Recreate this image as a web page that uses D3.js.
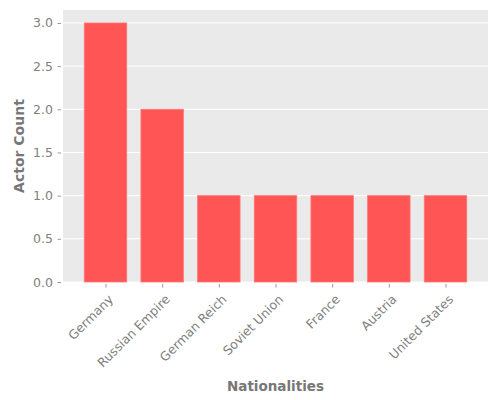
<!DOCTYPE html>
<html>
<head>
<meta charset="utf-8">
<script src="https://cdn.jsdelivr.net/npm/d3@7"></script>
<style>
  body { margin: 0; background: #fff; }
  text { font-family: "DejaVu Sans", sans-serif; }
</style>
</head>
<body>
<div id="main"></div>
<script>
var nationalities = ["Germany", "Russian Empire", "German Reich", "Soviet Union", "France", "Austria", "United States"];
var actorCounts = [3, 2, 1, 1, 1, 1, 1];
var yTicks = [0, 0.5, 1.0, 1.5, 2.0, 2.5, 3.0];

var margin = {top: 10, right: 12, bottom: 118, left: 63},
    width = 500 - margin.left - margin.right,
    height = 400 - margin.top - margin.bottom;

var svg = d3.select("#main")
  .append("svg")
    .attr("width", 500)
    .attr("height", 400)
  .append("g")
    .attr("transform", "translate(" + margin.left + "," + margin.top + ")");

// plot background
svg.append("rect")
  .attr("width", width)
  .attr("height", height)
  .attr("fill", "#eaeaea");

var x = d3.scaleLinear()
  .domain([-0.75, nationalities.length - 0.25])
  .range([0, width]);

var y = d3.scaleLinear()
  .domain([0, 3.15])
  .range([height, 0]);

// gridlines
svg.append("g")
  .selectAll("line")
  .data(yTicks)
  .enter()
  .append("line")
    .attr("x1", 0)
    .attr("x2", width)
    .attr("y1", function(d) { return y(d); })
    .attr("y2", function(d) { return y(d); })
    .attr("stroke", "#fff")
    .attr("stroke-width", 1);

// bars
var barW = 0.75;
svg.append("g")
  .selectAll("rect")
  .data(actorCounts)
  .enter()
  .append("rect")
    .attr("x", function(d, i) { return x(i - barW / 2); })
    .attr("y", function(d) { return y(d); })
    .attr("width", x(barW) - x(0))
    .attr("height", function(d) { return height - y(d); })
    .attr("fill", "#ff5555")
    .attr("stroke", "#ff7a7a")
    .attr("stroke-width", 0.8);

// y axis
var yAxis = svg.append("g")
  .call(d3.axisLeft(y).tickValues(yTicks).tickFormat(d3.format(".1f")).tickSize(3.5).tickPadding(3.5));
yAxis.select(".domain").remove();
yAxis.selectAll("line").attr("stroke", "#999").attr("transform", "translate(-2,0)");
yAxis.selectAll("text")
  .attr("fill", "#808080")
  .style("font-size", "12.5px")
  .attr("dx", "-3");

// x axis
var xAxis = svg.append("g")
  .attr("transform", "translate(0," + height + ")")
  .call(d3.axisBottom(x)
    .tickValues(d3.range(nationalities.length))
    .tickFormat(function(i) { return nationalities[i]; })
    .tickSize(3.5));
xAxis.select(".domain").remove();
xAxis.selectAll("line").attr("stroke", "#999").attr("transform", "translate(0,2)");
xAxis.selectAll("text")
  .attr("fill", "#808080")
  .style("font-size", "12.5px")
  .attr("text-anchor", "end")
  .attr("dy", "0.35em")
  .attr("transform", "translate(5,15) rotate(-45)")
  .attr("y", 0)
  .attr("x", 0);

// axis labels
svg.append("text")
  .attr("text-anchor", "middle")
  .attr("x", width / 2)
  .attr("y", height + 109)
  .attr("fill", "#777")
  .style("font-size", "13.5px")
  .attr("font-weight", "bold")
  .text("Nationalities");

svg.append("text")
  .attr("text-anchor", "middle")
  .attr("transform", "translate(" + (-39) + "," + (height / 2) + ") rotate(-90)")
  .attr("fill", "#777")
  .style("font-size", "14px")
  .attr("font-weight", "bold")
  .text("Actor Count");
</script>
</body>
</html>
